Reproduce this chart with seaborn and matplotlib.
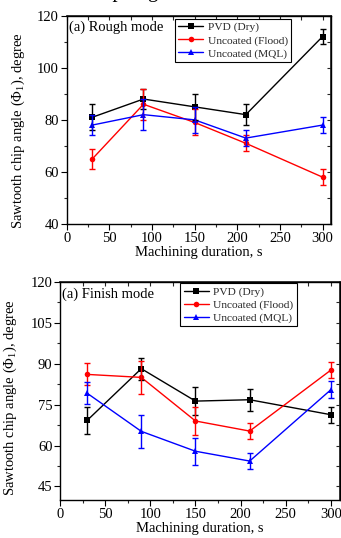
import matplotlib
matplotlib.use("Agg")
import matplotlib.pyplot as plt
import seaborn as sns
import pandas as pd
from matplotlib.ticker import MultipleLocator

sns.set_theme(style="white")
plt.rcParams['font.family'] = ['Liberation Serif', 'DejaVu Serif']
plt.rcParams['mathtext.fontset'] = 'custom'
plt.rcParams['mathtext.rm'] = 'Liberation Serif'
plt.rcParams['mathtext.it'] = 'Liberation Serif:italic'

durations = [30, 90, 150, 210, 300]
series_names = ["PVD (Dry)", "Uncoated (Flood)", "Uncoated (MQL)"]

rough_pvd = [81, 88, 85, 82, 112]
rough_pvd_err = [5, 4, 5, 4, 3]
rough_flood = [65, 86, 79, 71, 58]
rough_flood_err = [4, 6, 5, 3, 3]
rough_mql = [78, 82, 80, 73, 78]
rough_mql_err = [4, 6, 5, 3, 3]

finish_pvd = [69.2, 88.2, 76.3, 76.8, 71.3]
finish_pvd_err = [5, 4, 5, 4, 3]
finish_flood = [86.1, 85, 69, 65.3, 87.7]
finish_flood_err = [4, 6, 5, 3, 3]
finish_mql = [79.2, 65.2, 57.9, 54.3, 80.5]
finish_mql_err = [4, 6, 5, 3, 3]

colors = ["#000000", "#ff0000", "#0000ff"]
markers = ["s", "o", "^"]

fig = plt.figure(figsize=(3.41, 5.38), dpi=100)
ax1 = fig.add_axes([0.1956, 0.5836, 0.7754, 0.3872])
ax2 = fig.add_axes([0.176, 0.0706, 0.821, 0.4052])

# clipped fragment of text from the panel above (only descenders visible)
fig.text(87 / 341, 1 + 3.5 / 538, "chip angle", ha="left", va="baseline",
         fontsize=15, color="black")


def draw(ax, vals, errs, title, yticks_major, yminor, legend_anchor, ylab_xy):
    rows = []
    for name, v in zip(series_names, vals):
        for d, y in zip(durations, v):
            rows.append({"t": d, "y": y, "s": name})
    df = pd.DataFrame(rows)
    sns.lineplot(data=df, x="t", y="y", hue="s", style="s",
                 palette=dict(zip(series_names, colors)),
                 markers=dict(zip(series_names, markers)),
                 dashes=False, markersize=4, linewidth=1.0,
                 markeredgewidth=0, ax=ax, legend=True)
    for v, e, c in zip(vals, errs, colors):
        ax.errorbar(durations, v, yerr=e, fmt="none", ecolor=c,
                    elinewidth=1.0, capsize=2.3, capthick=1.0)
    ax.set_xlim(0, 310)
    ax.set_ylim(40, 120)
    ax.set_xticks([0, 50, 100, 150, 200, 250, 300])
    ax.set_yticks(yticks_major)
    ax.xaxis.set_minor_locator(MultipleLocator(25))
    ax.yaxis.set_minor_locator(MultipleLocator(yminor))
    ax.tick_params(which="major", direction="out", length=4, width=0.8,
                   labelsize=10.5, pad=1.5, left=True, bottom=True, colors="black")
    ax.tick_params(which="minor", direction="out", length=2.5, width=0.8,
                   left=True, bottom=True)
    for sp in ax.spines.values():
        sp.set_color("black")
        sp.set_linewidth(1.0)
    sx = ax.secondary_xaxis("top")
    sx.set_xticks([0, 50, 100, 150, 200, 250, 300])
    sx.xaxis.set_minor_locator(MultipleLocator(25))
    sx.tick_params(which="both", direction="in", labeltop=False, length=3, width=0.8)
    sy = ax.secondary_yaxis("right")
    sy.set_yticks(yticks_major)
    sy.yaxis.set_minor_locator(MultipleLocator(yminor))
    sy.tick_params(which="both", direction="in", labelright=False, length=3, width=0.8)
    ax.set_xlabel("Machining duration, s", fontsize=10.5, labelpad=1, color="black")
    ax.set_ylabel(r"Sawtooth chip angle ($\Phi_{\rm 1}$), degree", fontsize=10.5,
                  color="black")
    ax.yaxis.set_label_coords(*ylab_xy)
    ax.text(0.008, 0.975, title, transform=ax.transAxes, ha="left", va="top",
            fontsize=10.5, color="black")
    leg = ax.legend(loc="upper right", bbox_to_anchor=legend_anchor,
                    borderaxespad=0, fontsize=8.2, frameon=True, fancybox=False,
                    edgecolor="black", framealpha=1, handlelength=2.2,
                    handletextpad=0.4, borderpad=0.3, labelspacing=0.25, title=None)
    leg.get_frame().set_linewidth(0.8)


draw(ax1, [rough_pvd, rough_flood, rough_mql],
     [rough_pvd_err, rough_flood_err, rough_mql_err],
     "(a) Rough mode", [40, 60, 80, 100, 120], 10, (0.85, 0.985), (-0.15, 0.447))
draw(ax2, [finish_pvd, finish_flood, finish_mql],
     [finish_pvd_err, finish_flood_err, finish_mql_err],
     "(a) Finish mode", [45, 60, 75, 90, 105, 120], 7.5, (0.846, 0.995), (-0.145, 0.468))

fig.savefig("out.png", dpi=100)
